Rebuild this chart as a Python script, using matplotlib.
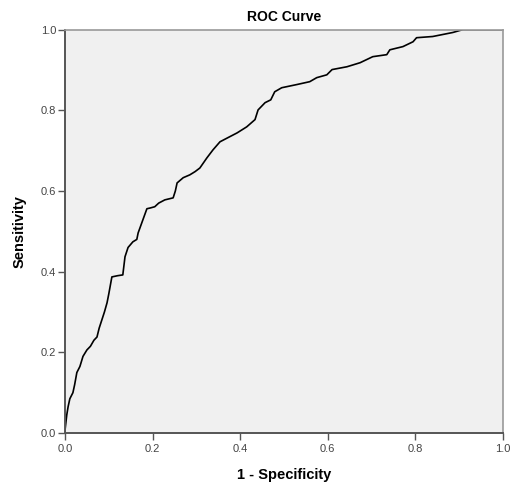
import matplotlib.pyplot as plt

plt.rcParams['font.family'] = ['Liberation Sans', 'DejaVu Sans']

# ROC points (1 - specificity, sensitivity)
fpr = [0.000, 0.000, 0.004, 0.007, 0.011, 0.018, 0.022, 0.027, 0.034, 0.041,
       0.050, 0.058, 0.066, 0.073, 0.078, 0.084, 0.090, 0.096, 0.100, 0.107,
       0.120, 0.132, 0.137, 0.144, 0.155, 0.164, 0.167, 0.178, 0.187, 0.195,
       0.205, 0.214, 0.228, 0.247, 0.252, 0.256, 0.270, 0.285, 0.297, 0.308,
       0.324, 0.338, 0.354, 0.377, 0.393, 0.415, 0.434, 0.441, 0.457, 0.470,
       0.479, 0.495, 0.530, 0.559, 0.575, 0.598, 0.610, 0.644, 0.674, 0.703,
       0.735, 0.742, 0.772, 0.795, 0.803, 0.840, 0.886, 0.902, 0.909, 0.950,
       1.000]
tpr = [0.000, 0.007, 0.045, 0.065, 0.085, 0.100, 0.120, 0.150, 0.165, 0.190,
       0.206, 0.215, 0.230, 0.238, 0.260, 0.280, 0.300, 0.323, 0.345, 0.387,
       0.390, 0.392, 0.437, 0.460, 0.474, 0.480, 0.496, 0.529, 0.556, 0.558,
       0.561, 0.570, 0.578, 0.583, 0.600, 0.620, 0.633, 0.640, 0.648, 0.657,
       0.682, 0.702, 0.722, 0.735, 0.744, 0.759, 0.777, 0.801, 0.819, 0.826,
       0.846, 0.856, 0.864, 0.871, 0.881, 0.888, 0.901, 0.908, 0.918, 0.933,
       0.938, 0.950, 0.958, 0.970, 0.980, 0.983, 0.993, 0.998, 1.000, 1.000,
       1.000]
ticks = [0.0, 0.2, 0.4, 0.6, 0.8, 1.0]

fig = plt.figure(figsize=(5.12, 4.86), dpi=100)
ax = fig.add_axes([0.127, 0.109, 0.855, 0.830])
ax.set_facecolor('#f0f0f0')

ax.plot(fpr, tpr, color='black', lw=1.2)

ax.set_xlim(0, 1)
ax.set_ylim(0, 1)
ax.set_xticks(ticks)
ax.set_yticks(ticks)
ax.set_xticklabels(['%.1f' % t for t in ticks])
ax.set_yticklabels(['%.1f' % t for t in ticks])
ax.tick_params(labelsize=8, colors='#555555', labelcolor='#444444',
               length=5, width=1, direction='out', pad=1.5)
ax.tick_params(axis='x', pad=3)

for side in ['left', 'bottom']:
    ax.spines[side].set_color('#555555')
    ax.spines[side].set_linewidth(1.4)
for side in ['top', 'right']:
    ax.spines[side].set_color('#999999')
    ax.spines[side].set_linewidth(1.2)

ax.set_title('ROC Curve', fontsize=10, fontweight='bold', pad=6)
ax.set_xlabel('1 - Specificity', fontsize=10.5, fontweight='bold', labelpad=10)
ax.set_ylabel('Sensitivity', fontsize=10.5, fontweight='bold', labelpad=10)

plt.savefig('out.png', dpi=100)
